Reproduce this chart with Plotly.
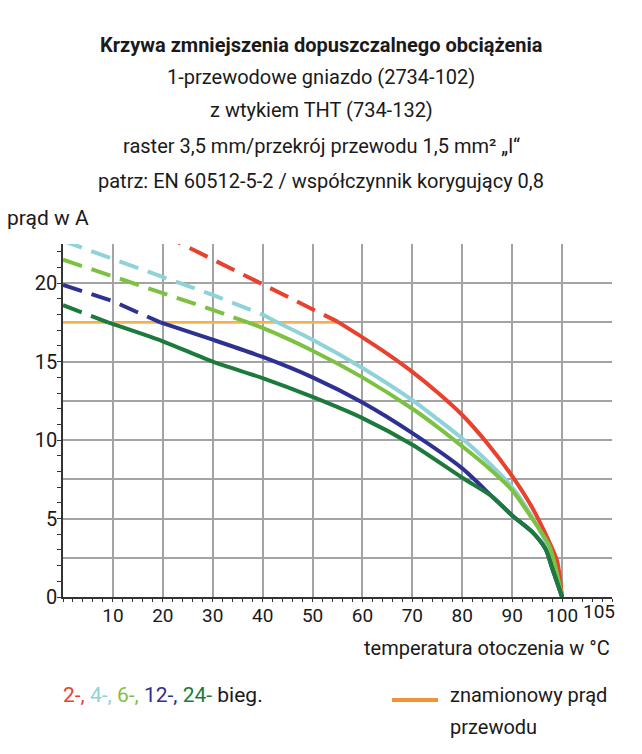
import plotly.graph_objects as go

# ---------------- data ----------------
temp_ticks = [0, 10, 20, 30, 40, 50, 60, 70, 80, 90, 100, 110]
temp_tick_labels = ["", "10", "20", "30", "40", "50", "60", "70", "80", "90", "100", ""]
extra_temp_label = "105"
current_ticks = [0, 2.5, 5, 7.5, 10, 12.5, 15, 17.5, 20, 22.5]
current_tick_labels = ["0", "", "5", "", "10", "", "15", "", "20", ""]

rated_t = [0, 55]
rated_i = [17.5, 17.5]

red_dash_t = [20, 30, 40, 50, 55]
red_dash_i = [23.1, 21.5, 19.95, 18.35, 17.55]
red_solid_t = [55, 60, 65, 70, 75, 80, 85, 90, 94, 97, 99, 100]
red_solid_i = [17.55, 16.55, 15.5, 14.35, 13.05, 11.6, 9.8, 7.7, 5.7, 3.8, 2.3, 0]

cyan_dash_t = [0, 10, 20, 30, 40, 43]
cyan_dash_i = [22.7, 21.55, 20.4, 19.25, 18.0, 17.5]
cyan_solid_t = [43, 50, 60, 70, 75, 80, 85, 90, 94, 97, 100]
cyan_solid_i = [17.5, 16.4, 14.6, 12.55, 11.35, 10.1, 8.65, 7.0, 5.1, 3.3, 0]

green_dash_t = [0, 10, 20, 30, 37]
green_dash_i = [21.5, 20.45, 19.35, 18.3, 17.5]
green_solid_t = [37, 40, 50, 60, 70, 75, 80, 85, 90, 94, 97.5, 100]
green_solid_i = [17.5, 17.15, 15.7, 14.0, 12.0, 10.85, 9.6, 8.3, 6.8, 5.0, 3.2, 0]

blue_dash_t = [0, 10, 19.5]
blue_dash_i = [19.9, 18.85, 17.5]
blue_solid_t = [19.5, 30, 40, 50, 60, 70, 80, 86, 90, 94, 96.7, 98, 100]
blue_solid_i = [17.5, 16.4, 15.3, 14.0, 12.4, 10.45, 8.2, 6.4, 5.2, 4.15, 3.05, 1.85, 0]

dgreen_dash_t = [0, 9]
dgreen_dash_i = [18.6, 17.5]
dgreen_solid_t = [9, 20, 30, 40, 50, 60, 70, 80, 86, 90, 94, 96.7, 98, 100]
dgreen_solid_i = [17.5, 16.3, 15.0, 13.95, 12.75, 11.4, 9.7, 7.6, 6.4, 5.2, 4.15, 3.05, 1.85, 0]

title_lines = [
    "<b>Krzywa zmniejszenia dopuszczalnego obciążenia</b>",
    "1-przewodowe gniazdo (2734-102)",
    "z wtykiem THT (734-132)",
    "raster 3,5 mm/przekrój przewodu 1,5 mm² „l“",
    "patrz: EN 60512-5-2 / współczynnik korygujący 0,8",
]

# ---------------- style ----------------
FONT = "Roboto, Liberation Sans, sans-serif"
TXT = "#1a1a1a"
C_RED = "#e8412e"
C_CYAN = "#8fd3d8"
C_GREEN = "#7dc143"
C_BLUE = "#2e3192"
C_DGREEN = "#1b7a3c"
C_ORANGE = "#f6b453"
C_ORANGE_LEG = "#f29136"
DASH = "20px,10px"
LW = 4

fig = go.Figure()
fig.add_trace(go.Scatter(x=rated_t, y=rated_i, mode="lines",
                         line=dict(color=C_ORANGE, width=2.5), hoverinfo="skip"))

series = [
    (red_dash_t, red_dash_i, red_solid_t, red_solid_i, C_RED),
    (cyan_dash_t, cyan_dash_i, cyan_solid_t, cyan_solid_i, C_CYAN),
    (green_dash_t, green_dash_i, green_solid_t, green_solid_i, C_GREEN),
    (blue_dash_t, blue_dash_i, blue_solid_t, blue_solid_i, C_BLUE),
    (dgreen_dash_t, dgreen_dash_i, dgreen_solid_t, dgreen_solid_i, C_DGREEN),
]
for dt, di, st, si, col in series:
    fig.add_trace(go.Scatter(x=dt, y=di, mode="lines",
                             line=dict(color=col, width=LW, dash=DASH), hoverinfo="skip"))
    fig.add_trace(go.Scatter(x=st, y=si, mode="lines", line_shape="spline",
                             line=dict(color=col, width=LW, smoothing=0.7), hoverinfo="skip"))

fig.update_layout(
    width=642, height=754,
    margin=dict(l=63, r=30, t=244, b=157),
    paper_bgcolor="white", plot_bgcolor="white",
    showlegend=False,
    font=dict(family=FONT, size=20, color=TXT),
)
fig.update_xaxes(
    range=[0, 110], tickmode="array", tickvals=temp_ticks, ticktext=temp_tick_labels,
    showgrid=True, gridcolor="#a3a3a3", gridwidth=1.5,
    showline=True, linecolor="#333333", linewidth=1.5, zeroline=False,
    ticks="", ticklabelstandoff=0, tickfont=dict(family=FONT, size=19, color=TXT),
    minor=dict(tickmode="linear", tick0=0, dtick=2, ticks="outside", ticklen=3,
               tickcolor="#333333", showgrid=False),
)
fig.update_yaxes(
    range=[0, 22.5], tickmode="array", tickvals=current_ticks, ticktext=current_tick_labels,
    showgrid=True, gridcolor="#a3a3a3", gridwidth=1.5,
    showline=True, linecolor="#333333", linewidth=1.5, zeroline=False,
    ticks="", tickfont=dict(family=FONT, size=20, color=TXT),
    minor=dict(tickmode="linear", tick0=0, dtick=1, ticks="outside", ticklen=4,
               tickcolor="#333333", showgrid=False),
)

# extra "105" label on the x axis
fig.add_annotation(x=107.4, y=0, xref="x", yref="y", text=extra_temp_label,
                   showarrow=False, yanchor="top", yshift=-1,
                   font=dict(family=FONT, size=19, color=TXT))


def py2paper(py):
    return (597 - py) / 353.0


def px2paper(px):
    return (px - 63) / 549.0


title_y = [45, 77, 110, 146, 181]
for txt, py in zip(title_lines, title_y):
    fig.add_annotation(x=px2paper(321), y=py2paper(py), xref="paper", yref="paper",
                       text=txt, showarrow=False, xanchor="center", yanchor="middle",
                       font=dict(family=FONT, size=20, color=TXT))

fig.add_annotation(x=px2paper(5), y=py2paper(218), xref="paper", yref="paper",
                   text="prąd w A", showarrow=False, xanchor="left", yanchor="middle",
                   font=dict(family=FONT, size=21, color=TXT))
fig.add_annotation(x=px2paper(612), y=py2paper(648), xref="paper", yref="paper",
                   text="temperatura otoczenia w °C", showarrow=False,
                   xanchor="right", yanchor="middle",
                   font=dict(family=FONT, size=20, color=TXT))

legend_txt = (f"<span style='color:{C_RED}'>2-,</span> "
              f"<span style='color:{C_CYAN}'>4-,</span> "
              f"<span style='color:{C_GREEN}'>6-,</span> "
              f"<span style='color:{C_BLUE}'>12-,</span> "
              f"<span style='color:{C_DGREEN}'>24-</span> bieg.")
fig.add_annotation(x=px2paper(61), y=py2paper(695), xref="paper", yref="paper",
                   text=legend_txt, showarrow=False, xanchor="left", yanchor="middle",
                   font=dict(family=FONT, size=21, color=TXT))

fig.add_shape(type="line", xref="paper", yref="paper",
              x0=px2paper(392), x1=px2paper(438), y0=py2paper(700), y1=py2paper(700),
              line=dict(color=C_ORANGE_LEG, width=4))
fig.add_annotation(x=px2paper(448), y=py2paper(695), xref="paper", yref="paper",
                   text="znamionowy prąd", showarrow=False, xanchor="left", yanchor="middle",
                   font=dict(family=FONT, size=20, color=TXT))
fig.add_annotation(x=px2paper(448), y=py2paper(727), xref="paper", yref="paper",
                   text="przewodu", showarrow=False, xanchor="left", yanchor="middle",
                   font=dict(family=FONT, size=20, color=TXT))

fig.write_html("out.html", config={"displayModeBar": False},
               post_script="document.body.style.margin='0';document.body.style.padding='0';")
